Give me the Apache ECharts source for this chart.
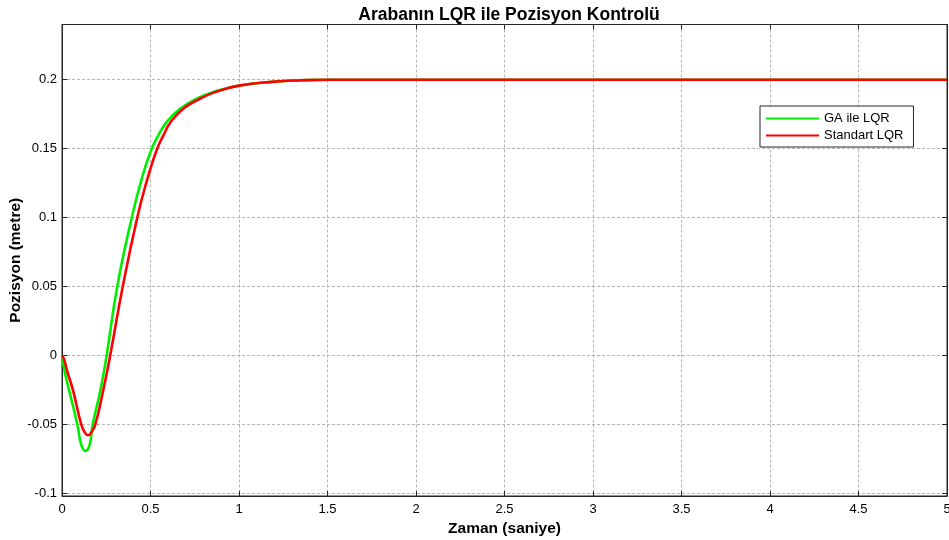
<!DOCTYPE html>
<html>
<head>
<meta charset="utf-8">
<script src="https://cdn.jsdelivr.net/npm/echarts@6/dist/echarts.min.js"></script>
<style>
  html, body { margin: 0; padding: 0; background: #fff; }
  #chart { width: 949px; height: 540px; }
</style>
</head>
<body>
<div id="chart"></div>
<script>
  // okunan degerler (grafikten)
  var timeGA = [0, 0.015, 0.04, 0.087, 0.109, 0.132, 0.156, 0.173, 0.217, 0.252, 0.312, 0.394, 0.45, 0.504, 0.544, 0.591, 0.667, 0.761, 0.855, 1.0, 1.2, 1.35, 1.5, 2, 5]
  var posGA = [0, -0.0115, -0.025, -0.05, -0.0646, -0.069, -0.0646, -0.05, -0.025, 0, 0.05, 0.1, 0.128, 0.149, 0.1596, 0.1693, 0.179, 0.1862, 0.191, 0.1957, 0.1986, 0.1996, 0.2, 0.2, 0.2]

  var timeStd = [0, 0.01, 0.03, 0.062, 0.109, 0.128, 0.147, 0.166, 0.188, 0.233, 0.272, 0.343, 0.425, 0.48, 0.535, 0.573, 0.614, 0.685, 0.78, 0.865, 1.0, 1.2, 1.35, 1.5, 2, 5]
  var posStd = [0, -0.002, -0.0115, -0.025, -0.05, -0.0555, -0.0577, -0.0555, -0.05, -0.025, 0, 0.05, 0.1, 0.127, 0.149, 0.1596, 0.1693, 0.179, 0.1862, 0.191, 0.1957, 0.1986, 0.1996, 0.2, 0.2, 0.2]

  var yTicks = [-0.1, -0.05, 0, 0.05, 0.1, 0.15, 0.2]

  function pairs(t, v) {
    var out = []
    for (var i = 0; i < t.length; i++) out.push([t[i], v[i]])
    return out
  }

  var font = 'Liberation Sans, Arial, sans-serif'
  var gridLine = { show: true, lineStyle: { color: '#b5b5b5', type: [3, 2], width: 1 } }
  var axisLine = { show: true, onZero: false, lineStyle: { color: '#262626', width: 1 } }

  var chart = echarts.init(document.getElementById('chart'))
  var option = {
    animation: false,
    title: {
      text: 'Arabanın LQR ile Pozisyon Kontrolü',
      left: 504, top: 1, textAlign: 'center',
      textStyle: { fontFamily: font, fontSize: 17.5, fontWeight: 'bold', color: '#000' }
    },
    legend: {
      orient: 'vertical', left: 760, top: 106,
      padding: [6, 10, 5, 5], itemGap: 4, itemWidth: 53, itemHeight: 13,
      borderColor: '#262626', borderWidth: 1, backgroundColor: '#fff',
      itemStyle: { opacity: 0 },
      textStyle: { fontFamily: font, fontSize: 13, color: '#000' },
      data: ['GA ile LQR', 'Standart LQR']
    },
    grid: { left: 62, right: 2, top: 24.5, bottom: 44, outerBoundsMode: 'none', show: true, borderColor: '#262626', borderWidth: 1 },
    xAxis: [{
      type: 'value', min: 0, max: 5, interval: 0.5,
      name: 'Zaman (saniye)', nameLocation: 'middle', nameGap: 23,
      nameTextStyle: { fontFamily: font, fontSize: 15.5, fontWeight: 'bold', color: '#000' },
      axisLine: axisLine,
      axisTick: { inside: true, length: 5, lineStyle: { color: '#262626' } },
      axisLabel: { fontFamily: font, fontSize: 13, color: '#000', margin: 7 },
      splitLine: gridLine
    }, {
      type: 'value', min: 0, max: 5, interval: 0.5, position: 'top',
      axisLine: axisLine,
      axisTick: { inside: true, length: 5, lineStyle: { color: '#262626' } },
      axisLabel: { show: false }, splitLine: { show: false }
    }],
    yAxis: [{
      type: 'value', min: -0.1017, max: 0.24,
      name: 'Pozisyon (metre)', nameLocation: 'middle', nameGap: 38, nameMoveOverlap: false,
      nameTextStyle: { fontFamily: font, fontSize: 15.5, fontWeight: 'bold', color: '#000' },
      axisLine: axisLine,
      axisTick: { inside: true, length: 5, customValues: yTicks, lineStyle: { color: '#262626' } },
      axisLabel: { fontFamily: font, fontSize: 13, color: '#000', margin: 5, customValues: yTicks },
      splitLine: gridLine
    }, {
      type: 'value', min: -0.1017, max: 0.24, position: 'right',
      axisLine: axisLine,
      axisTick: { inside: true, length: 5, customValues: yTicks, lineStyle: { color: '#262626' } },
      axisLabel: { show: false }, splitLine: { show: false }
    }],
    series: [{
      name: 'GA ile LQR', type: 'line', xAxisIndex: 0, yAxisIndex: 0,
      data: pairs(timeGA, posGA), smooth: 0.5,
      symbol: 'none', lineStyle: { color: '#00ee00', width: 2.6 }, itemStyle: { color: '#00ee00' }
    }, {
      name: 'Standart LQR', type: 'line', xAxisIndex: 0, yAxisIndex: 0,
      data: pairs(timeStd, posStd), smooth: 0.5,
      symbol: 'none', lineStyle: { color: '#ff0000', width: 2.6 }, itemStyle: { color: '#ff0000' }
    }]
  }
  chart.setOption(option)
</script>
</body>
</html>
